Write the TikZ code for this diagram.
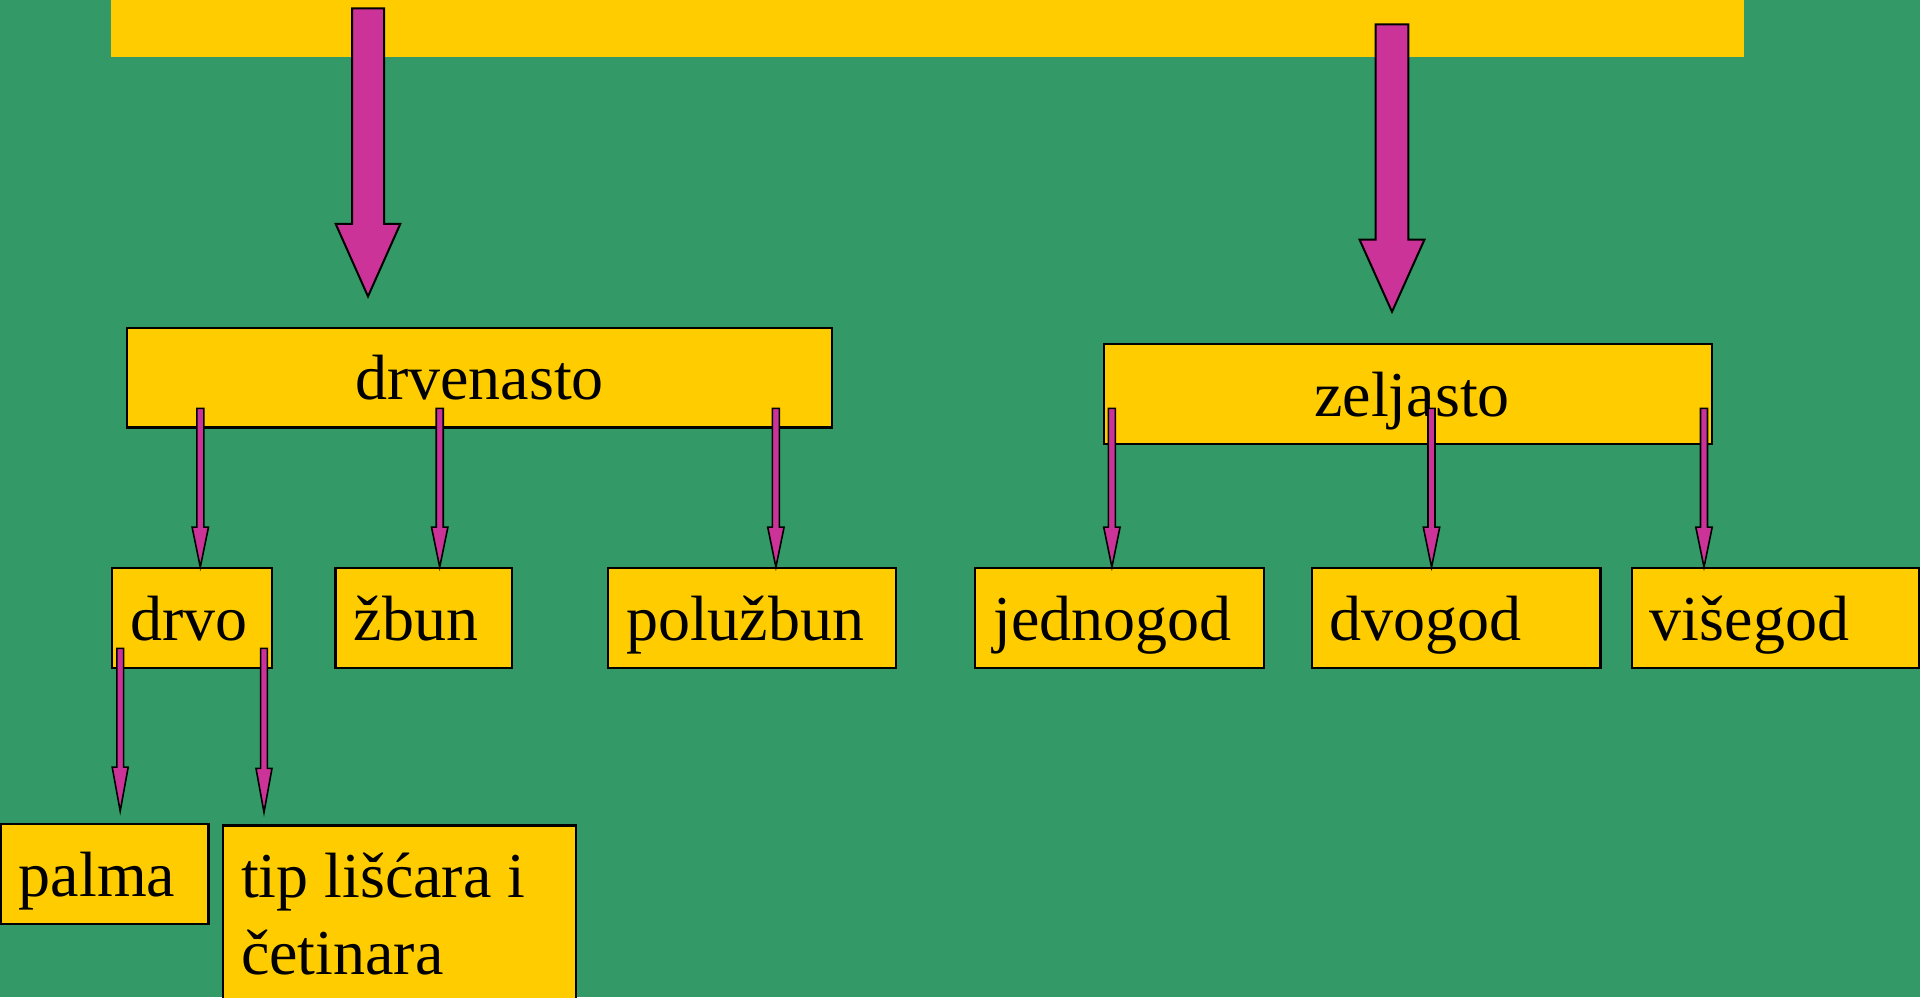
\documentclass[tikz,border=0pt]{standalone}
\usepackage{fontspec}
\setmainfont{Liberation Serif}
\usetikzlibrary{calc}
\definecolor{bggreen}{HTML}{339966}
\definecolor{boxyellow}{HTML}{FFCC00}
\definecolor{arrowmag}{HTML}{CC3399}
% #1 top coordinate, #2 tip coordinate, #3 half shaft width, #4 half head width, #5 head length, #6 style
\newcommand\blockarrow[6]{%
  \draw[#6] ($(#1)+(-#3,0)$) -- ($(#1)+(#3,0)$) -- ($(#2)+(#3,-#5)$) -- ($(#2)+(#4,-#5)$)
    -- (#2) -- ($(#2)+(-#4,-#5)$) -- ($(#2)+(-#3,-#5)$) -- cycle;}
\tikzset{
  boxbase/.style={draw=black, line width=2.3pt, fill=boxyellow, inner ysep=0pt,
    font=\fontsize{64pt}{77pt}\selectfont, text height=44pt, text depth=0pt},
  centerbox/.style={boxbase, inner xsep=0pt, minimum height=99.5pt, align=center},
  leftbox/.style={boxbase, inner xsep=18pt, minimum height=99.5pt, align=flush left, text width=#1},
  bigarrow/.style={draw=black, line width=2pt, fill=arrowmag, line join=miter},
  smallarrow/.style={draw=black, line width=1.6pt, fill=arrowmag, line join=miter},
}
\begin{document}
\begin{tikzpicture}[x=1pt, y=-1pt]
\useasboundingbox (0,0) rectangle (1920,997);
\clip (0,0) rectangle (1920,997);
\fill[bggreen] (0,0) rectangle (1920,997);

% title bar
\node[fill=boxyellow, inner sep=0pt, minimum width=1633pt, minimum height=70pt] (title) at (927.5,21.7) {};

% level 1
\node[centerbox, minimum width=705pt] (drv) at (479.5,377.8) {drvenasto};
\node[centerbox, minimum width=608pt, text width=608pt] (zel) at (1408,394) {\hspace*{8pt}zeljasto};

% big arrows
\coordinate (b1top) at (368,8.3);
\coordinate (b1tip) at ($(b1top |- drv.north)+(0,-30.5)$);
\blockarrow{b1top}{b1tip}{16}{32.3}{72.5}{bigarrow}
\coordinate (b2top) at (1392,24.3);
\coordinate (b2tip) at ($(b2top |- zel.north)+(0,-31.3)$);
\blockarrow{b2top}{b2tip}{16.3}{32.5}{72.3}{bigarrow}

% level 2
\node[leftbox=124pt] (drvo) at (192,618) {drvo};
\node[leftbox=140.4pt] (zbun) at (423.8,618) {žbun};
\node[leftbox=252pt] (polu) at (752,618) {polužbun};
\node[leftbox=252.7pt] (jedno) at (1119.6,618) {jednogod};
\node[leftbox=252.5pt] (dvo) at (1456.2,618) {dvogod};
\node[leftbox=251.3pt] (vise) at (1775.6,618) {višegod};

% level 3
\node[leftbox=171.6pt] (palma) at (104.8,874) {palma};
\node[boxbase, inner xsep=18pt, text width=317pt, align=flush left, text depth=77pt,
      minimum height=176.4pt, anchor=north] (tip) at (399.5,824.3) {tip lišćara i\\četinara};

% small arrows: drvenasto
\coordinate (a1top) at (200.3,408.3);
\coordinate (a1tip) at (a1top |- drvo.north);
\blockarrow{a1top}{a1tip}{3.5}{8.2}{40}{smallarrow}
\coordinate (a2top) at (439.7,408.3);
\coordinate (a2tip) at (a2top |- zbun.north);
\blockarrow{a2top}{a2tip}{3.5}{8.2}{40}{smallarrow}
\coordinate (a3top) at (775.9,408.3);
\coordinate (a3tip) at (a3top |- polu.north);
\blockarrow{a3top}{a3tip}{3.5}{8.2}{40}{smallarrow}

% small arrows: zeljasto
\coordinate (z1top) at (1111.9,408.3);
\coordinate (z1tip) at (z1top |- jedno.north);
\blockarrow{z1top}{z1tip}{3.5}{8.2}{40}{smallarrow}
\coordinate (z2top) at (1431.5,408.3);
\coordinate (z2tip) at (z2top |- dvo.north);
\blockarrow{z2top}{z2tip}{3.5}{8.2}{40}{smallarrow}
\coordinate (z3top) at (1704,408.3);
\coordinate (z3tip) at (z3top |- vise.north);
\blockarrow{z3top}{z3tip}{3.5}{8.2}{40}{smallarrow}

% small arrows: drvo
\coordinate (d1top) at (120.2,648.3);
\coordinate (d1tip) at ($(d1top |- palma.north)+(0,-12)$);
\blockarrow{d1top}{d1tip}{3.4}{8}{44}{smallarrow}
\coordinate (d2top) at (264,648.3);
\coordinate (d2tip) at ($(d2top |- tip.north)+(0,-12)$);
\blockarrow{d2top}{d2tip}{3.4}{8}{44}{smallarrow}
\end{tikzpicture}
\end{document}
